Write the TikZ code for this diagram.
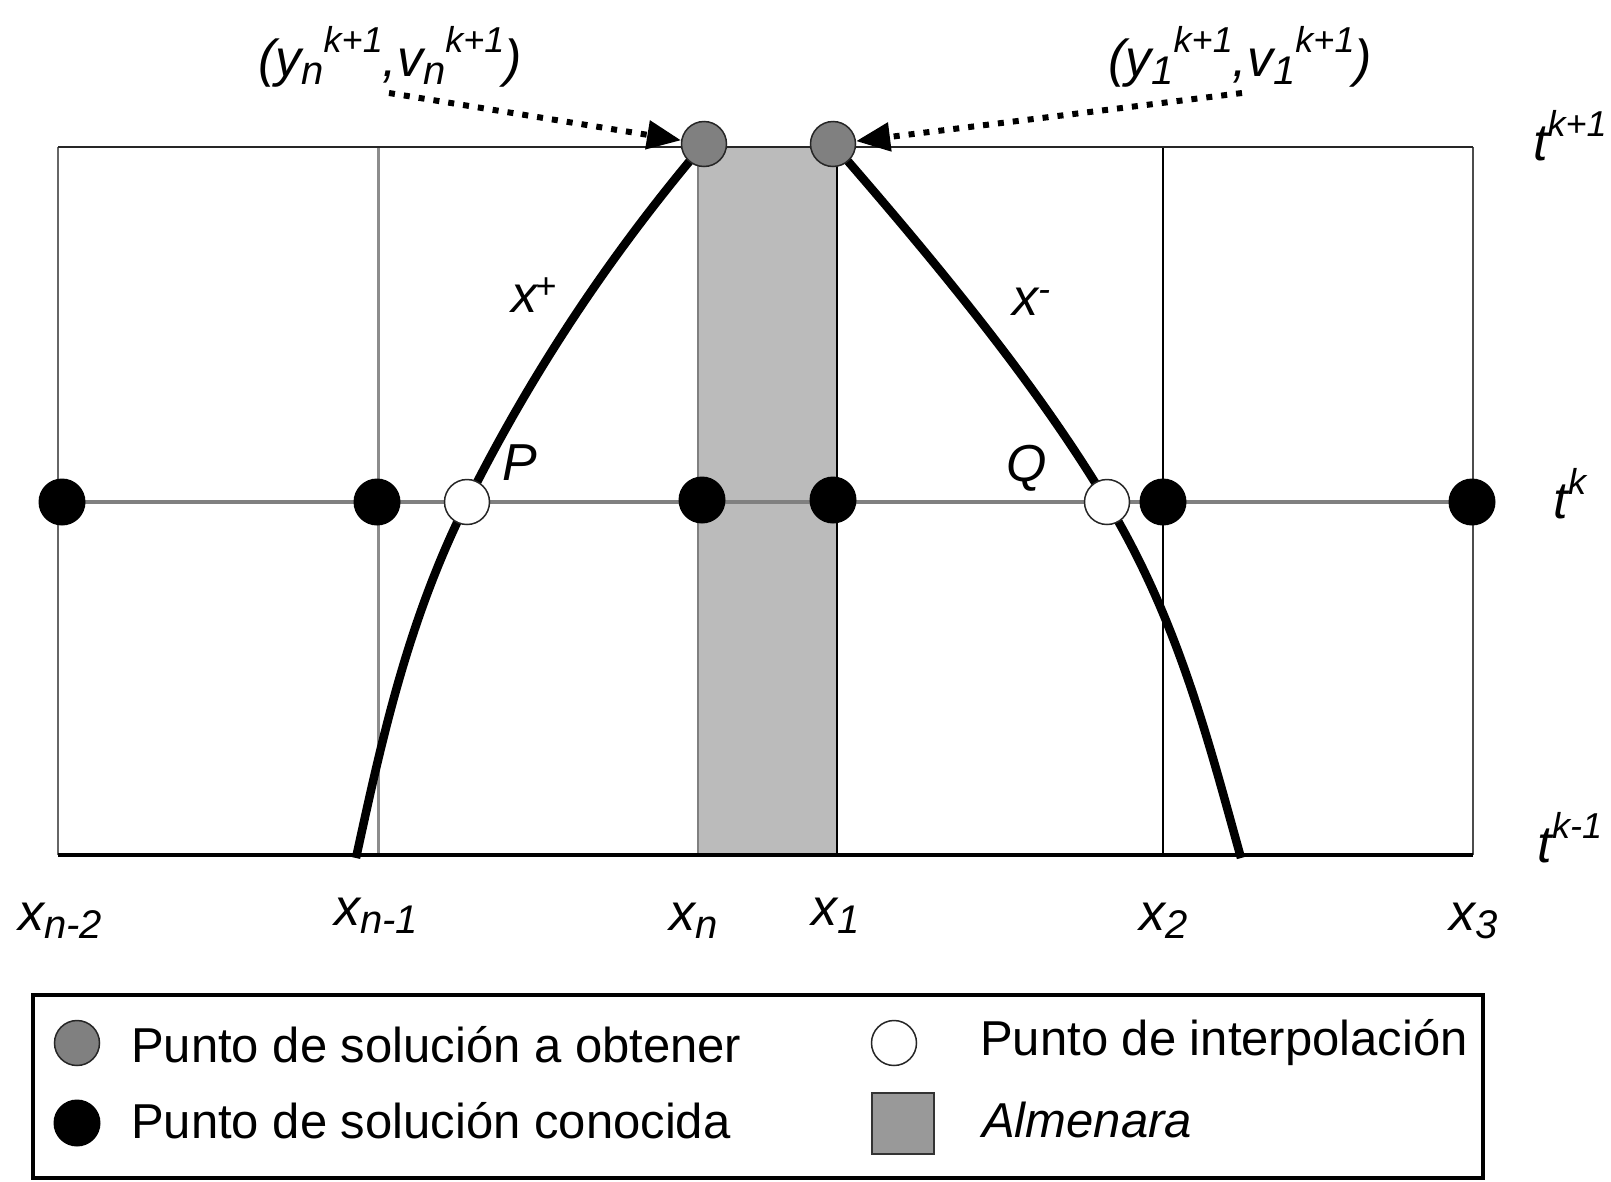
\documentclass[tikz,border=0pt]{standalone}
\usepackage{fontspec}
\setmainfont{Liberation Sans}
\usepackage{graphicx}
\usetikzlibrary{arrows.meta}
\definecolor{bandc}{HTML}{BBBBBB}
\definecolor{gdotc}{HTML}{808080}
\definecolor{legrc}{HTML}{999999}
\definecolor{gridg}{HTML}{8C8C8C}
\newcommand\dn[1]{\raisebox{-8pt}{\fontsize{40}{40}\selectfont #1}}
\newcommand\up[1]{\raisebox{24pt}{\fontsize{36}{36}\selectfont #1}}
\newcommand\upc[1]{\raisebox{14pt}{\fontsize{36}{36}\selectfont #1}}
\begin{document}
\begin{tikzpicture}[x=1pt,y=-1pt,
  lbl/.style={inner sep=0pt, font=\fontsize{52}{60}\selectfont\itshape},
  leg/.style={inner sep=0pt, anchor=base west, font=\fontsize{49}{58}\selectfont},
  bdot/.style={circle, fill=black, inner sep=0pt, minimum size=47pt},
  gdot/.style={circle, fill=gdotc, draw=black!85, line width=1.5pt, inner sep=0pt, minimum size=45pt},
  wdot/.style={circle, fill=white, draw=black!85, line width=1.5pt, inner sep=0pt, minimum size=45pt},
  curve/.style={line width=8.5pt, black},
  dotarrow/.style={line width=6pt, dash pattern=on 6pt off 9pt, -{Triangle[length=34pt,width=28pt]}},
]
\useasboundingbox (0,0) rectangle (1611,1181);
\fill[white] (0,0) rectangle (1611,1181);

% band (Almenara)
\fill[bandc] (698,147) rectangle (837,855);

% grid
\draw[line width=3.5pt, gdotc] (58,502) -- (1473,502);
\draw[line width=2.5pt, gray!80!black] (58,147) -- (58,855);
\draw[line width=3pt, gridg] (378,147) -- (378,855);
\draw[line width=2pt, gdotc] (698,147) -- (698,855);
\draw[line width=2.5pt, black] (837,147) -- (837,855);
\draw[line width=2pt, black] (1163,147) -- (1163,855);
\draw[line width=2.5pt, black!70] (1473,147) -- (1473,855);
\draw[line width=2.5pt, black!85] (58,147) -- (1473,147);
\draw[line width=3.5pt, black] (58,855) -- (1473,855);

% positions
\coordinate (pGL) at (704,144);
\coordinate (pGR) at (833,144);
\coordinate (pP) at (467,502);
\coordinate (pQ) at (1107,502);
\coordinate (cL) at (356,858);
\coordinate (cR) at (1241,858);

% characteristic curves
\draw[curve] (pGL) .. controls (603,263) and (526.5,383) .. (pP)
  .. controls (407.5,621) and (382,739) .. (cL);
\draw[curve] (pGR) .. controls (936.5,263) and (1035.6,383) .. (pQ)
  .. controls (1178.4,621) and (1207.7,739) .. (cR);

% dots
\node[bdot] (b1) at (62,502) {};
\node[bdot] (b2) at (377,502) {};
\node[bdot] (b3) at (702,500) {};
\node[bdot] (b4) at (833,500) {};
\node[bdot] (b5) at (1163,502) {};
\node[bdot] (b6) at (1472,502) {};
\node[wdot] (P) at (pP) {};
\node[wdot] (Q) at (pQ) {};
\node[gdot] (gL) at (pGL) {};
\node[gdot] (gR) at (pGR) {};

% dotted arrows
\coordinate (sL) at (389,93);
\coordinate (sR) at (1242,93);
\draw[dotarrow] (sL) -- (gL);
\draw[dotarrow] (sR) -- (gR);

% top labels
\node[lbl, anchor=base] (tl) at (390,76) {(y\dn{n}\up{k+1},v\dn{n}\up{k+1})};
\node[lbl, anchor=base] (tr) at (1240,76) {(y\dn{1}\up{k+1},v\dn{1}\up{k+1})};

% curve labels
\node[lbl, anchor=base west] (xp) at (511,312) {x\kern-2pt\upc{+}};
\node[lbl, anchor=base west] (xm) at (1012,315) {x\upc{-}};
\node[lbl, anchor=base west] (lP) at (502,480) {P};
\node[lbl, anchor=base west] (lQ) at (1006,481) {Q};

% time labels
\node[lbl, anchor=base] (t1) at (1570,160) {t\up{k+1}};
\node[lbl, anchor=base] (t2) at (1570,518) {t\up{k}};
\node[lbl, anchor=base] (t3) at (1570,862) {t\up{k-1}};

% space labels
\node[lbl, anchor=base] (x1) at (60,930) {x\dn{n-2}};
\node[lbl, anchor=base] (x2) at (376,925) {x\dn{n-1}};
\node[lbl, anchor=base] (x3) at (694,930) {x\dn{n}};
\node[lbl, anchor=base] (x4) at (836,925) {x\dn{1}};
\node[lbl, anchor=base] (x5) at (1164,930) {x\dn{2}};
\node[lbl, anchor=base] (x6) at (1474,930) {x\dn{3}};

% legend
\draw[line width=4pt] (33,995) rectangle (1483,1178);
\node[gdot] (lg) at (77,1043) {};
\node[leg] (lgt) at (131,1062) {Punto de solución a obtener};
\node[bdot] (lb) at (77,1123) {};
\node[leg] (lbt) at (131,1138) {Punto de solución conocida};
\node[wdot] (lw) at (894,1043) {};
\node[leg] (lwt) at (980,1055) {Punto de interpolación};
\node[draw=black!80, fill=legrc, line width=2pt, inner sep=0pt, minimum width=62pt, minimum height=61pt] (lr) at (903,1123) {};
\node[leg, font=\fontsize{49}{58}\selectfont\itshape] (lrt) at (982,1137) {Almenara};
\end{tikzpicture}
\end{document}
